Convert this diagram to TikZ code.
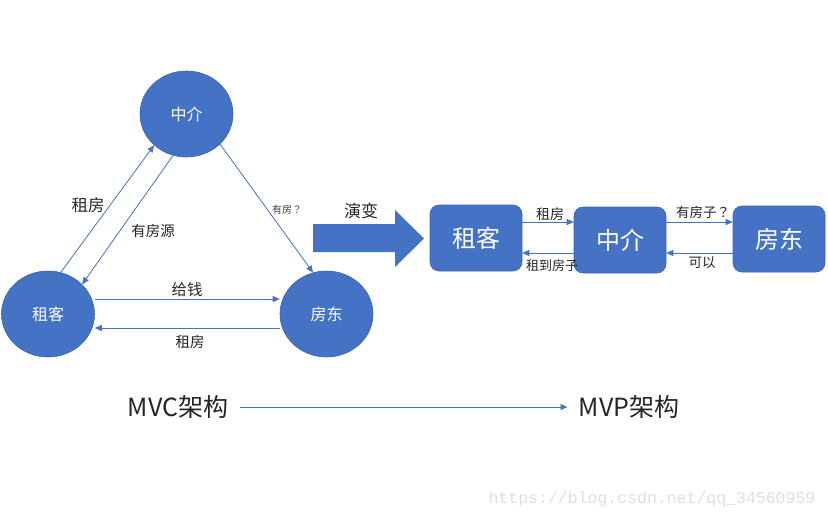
\documentclass[tikz,border=0pt]{standalone}
\usepackage{fontspec}
\setmainfont{Noto Sans CJK SC}
\newfontfamily\tcfont{Noto Sans CJK TC}
\newfontfamily\wmfont{Liberation Mono}
\usetikzlibrary{arrows.meta,shapes.geometric,calc}
\definecolor{officeblue}{RGB}{68,114,196}
\definecolor{edgeblue}{RGB}{60,100,175}
\definecolor{wmgray}{RGB}{226,223,217}
\newcommand{\fwq}{{\tcfont ？}}
\newcommand{\fsz}[1]{\fontsize{#1}{#1}\selectfont}
\tikzset{
  circ/.style={ellipse,fill=officeblue,draw=edgeblue,line width=0.6pt,minimum width=93pt,minimum height=86pt,inner sep=0pt,text=white,font=\fsz{16}},
  rbox/.style={rectangle,rounded corners=9pt,fill=officeblue,draw=edgeblue,line width=0.6pt,minimum width=92pt,minimum height=66pt,inner sep=0pt,text=white,font=\fsz{24}},
  arr/.style={draw=officeblue,line width=0.8pt,-{Triangle[length=7pt,width=6pt]}},
  lbl/.style={text=black!85,inner sep=0pt},
  big/.style={font=\fsz{25},text=black!85,inner sep=0pt},
}
\begin{document}
\begin{tikzpicture}[x=1pt,y=-1pt]
\useasboundingbox[fill=white] (0,0) rectangle (828,520);
% MVC circles
\node[circ] (zj) at (186.5,114) {中介};
\node[circ] (zk) at (48,314) {租客};
\node[circ] (fd) at (326.5,314) {房东};
\draw[arr] (zk.73) -- (zj.224);
\draw[arr] (zj.252) -- (zk.41);
\draw[arr] (zj.318) -- (fd.108);
\draw[arr] ([yshift=15]zk.east) -- ([yshift=15]fd.west);
\draw[arr] ([yshift=-14]fd.west) -- ([yshift=-14]zk.east);
\node[lbl,font=\fsz{16.5}] (l1) at (88,205) {租房};
\node[lbl,font=\fsz{14.5}] (l2) at (153,231) {有房源};
\node[lbl,font=\fsz{10},text=black!75] (l3) at (287,210) {有房\fwq};
\node[lbl,font=\fsz{15.5}] (l4) at (187,290) {给钱};
\node[lbl,font=\fsz{14.5}] (l5) at (190,342) {租房};
% big arrow
\fill[officeblue] (313,224) -- (395,224) -- (395,210) -- (424,238.5) -- (395,267) -- (395,252) -- (313,252) -- cycle;
\node[lbl,font=\fsz{17}] (l6) at (361,211) {演变};
% MVP boxes
\node[rbox] (r1) at (476,238) {租客};
\node[rbox] (r2) at (620,240) {中介};
\node[rbox] (r3) at (779,239) {房东};
\draw[arr] ([yshift=16]r1.east) coordinate (a1) -- (a1 -| r2.west);
\draw[arr] ([yshift=-13]r2.west) coordinate (a2) -- (a2 -| r1.east);
\draw[arr] ([yshift=18]r2.east) coordinate (a3) -- (a3 -| r3.west);
\draw[arr] ([yshift=-14]r3.west) coordinate (a4) -- (a4 -| r2.east);
\node[lbl,font=\fsz{14}] (m1) at (550,214) {租房};
\node[lbl,font=\fsz{13}] (m2) at (552,266) {租到房子};
\node[lbl,font=\fsz{13.5}] (m3) at (703,212) {有房子\fwq};
\node[lbl,font=\fsz{13.5}] (m4) at (702,263) {可以};
% bottom
\node[big] (mvc) at (178,407) {MVC架构};
\node[big] (mvp) at (629,407) {MVP架构};
\draw[arr] ([xshift=12]mvc.east) -- ([xshift=-11]mvp.west);
% watermark
\node[font=\wmfont\fsz{16.5},text=wmgray,inner sep=0pt] (wm) at (652,499) {https://blog.csdn.net/qq\_34560959};
\end{tikzpicture}
\end{document}
